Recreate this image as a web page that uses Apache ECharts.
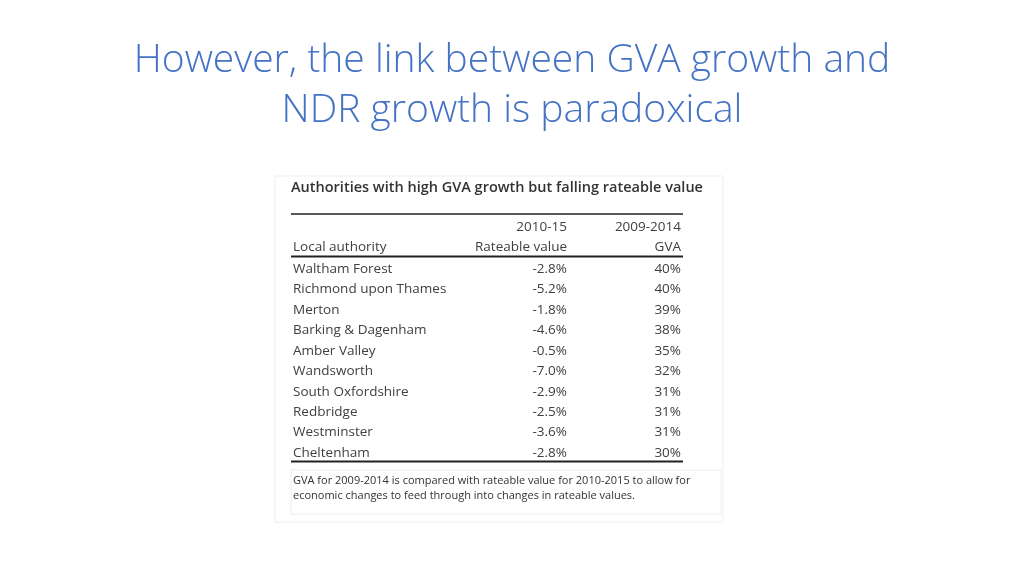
<!DOCTYPE html>
<html><head><meta charset="utf-8">
<script src="https://cdn.jsdelivr.net/npm/echarts@6/dist/echarts.min.js"></script>
<style>html,body{margin:0;padding:0;background:#fff}#c{width:1024px;height:576px}</style>
</head><body><div id="c"></div>
<script>
const titleLines = ["However, the link between GVA growth and", "NDR growth is paradoxical"];
const tableTitle = "Authorities with high GVA growth but falling rateable value";
const headerTop = ["", "2010-15", "2009-2014"];
const headerBottom = ["Local authority", "Rateable value", "GVA"];
const authorities = ["Waltham Forest","Richmond upon Thames","Merton","Barking & Dagenham","Amber Valley","Wandsworth","South Oxfordshire","Redbridge","Westminster","Cheltenham"];
const rateableValue = ["-2.8%","-5.2%","-1.8%","-4.6%","-0.5%","-7.0%","-2.9%","-2.5%","-3.6%","-2.8%"];
const gva = ["40%","40%","39%","38%","35%","32%","31%","31%","31%","30%"];
const footnote = ["GVA for 2009-2014 is compared with rateable value for 2010-2015 to allow for","economic changes to feed through into changes in rateable values."];

const F = "'Open Sans', 'Noto Sans', sans-serif";
const g = [];
const txt = (x, y, s, size, align, color, weight) => g.push({type:'text', x, y, style:{text:s, font:`${weight||'normal'} ${size}px ${F}`, fill:color||'#404040', textAlign:align||'left', textVerticalAlign:'middle'}});
const line = (x1,y1,x2,y2,w,c) => g.push({type:'line', shape:{x1,y1,x2,y2}, style:{stroke:c||'#222', lineWidth:w}});

titleLines.forEach((t,i)=>txt(512, 61+50*i, t, 39, 'center', '#4472C4', '300'));
g.push({type:'rect', shape:{x:275,y:176,width:448,height:346}, style:{fill:'none', stroke:'#eeeeee', lineWidth:1}});
g.push({type:'rect', shape:{x:291,y:470,width:430,height:44}, style:{fill:'none', stroke:'#eeeeee', lineWidth:1}});
txt(291, 188, tableTitle, 14.5, 'left', '#333', '600');
line(291, 214, 683, 214, 1.5);
const cx = [293, 567, 681];
const al = ['left','right','right'];
[0,1,2].forEach(j=>{ txt(cx[j],227,headerTop[j],13.5,al[j]); txt(cx[j],247,headerBottom[j],13.5,al[j]); });
line(291, 256.5, 683, 256.5, 2);
const cols = [authorities, rateableValue, gva];
authorities.forEach((_,i)=>{
  const y = 269 + i*20.45;
  [0,1,2].forEach(j=>txt(cx[j], y, cols[j][i], 13.5, al[j]));
});
line(291, 461.5, 683, 461.5, 2);
footnote.forEach((t,i)=>txt(293, 481+15*i, t, 11, 'left', '#333'));

const chart = echarts.init(document.getElementById('c'));
chart.setOption({animation:false, graphic:{elements:g}});
</script></body></html>
